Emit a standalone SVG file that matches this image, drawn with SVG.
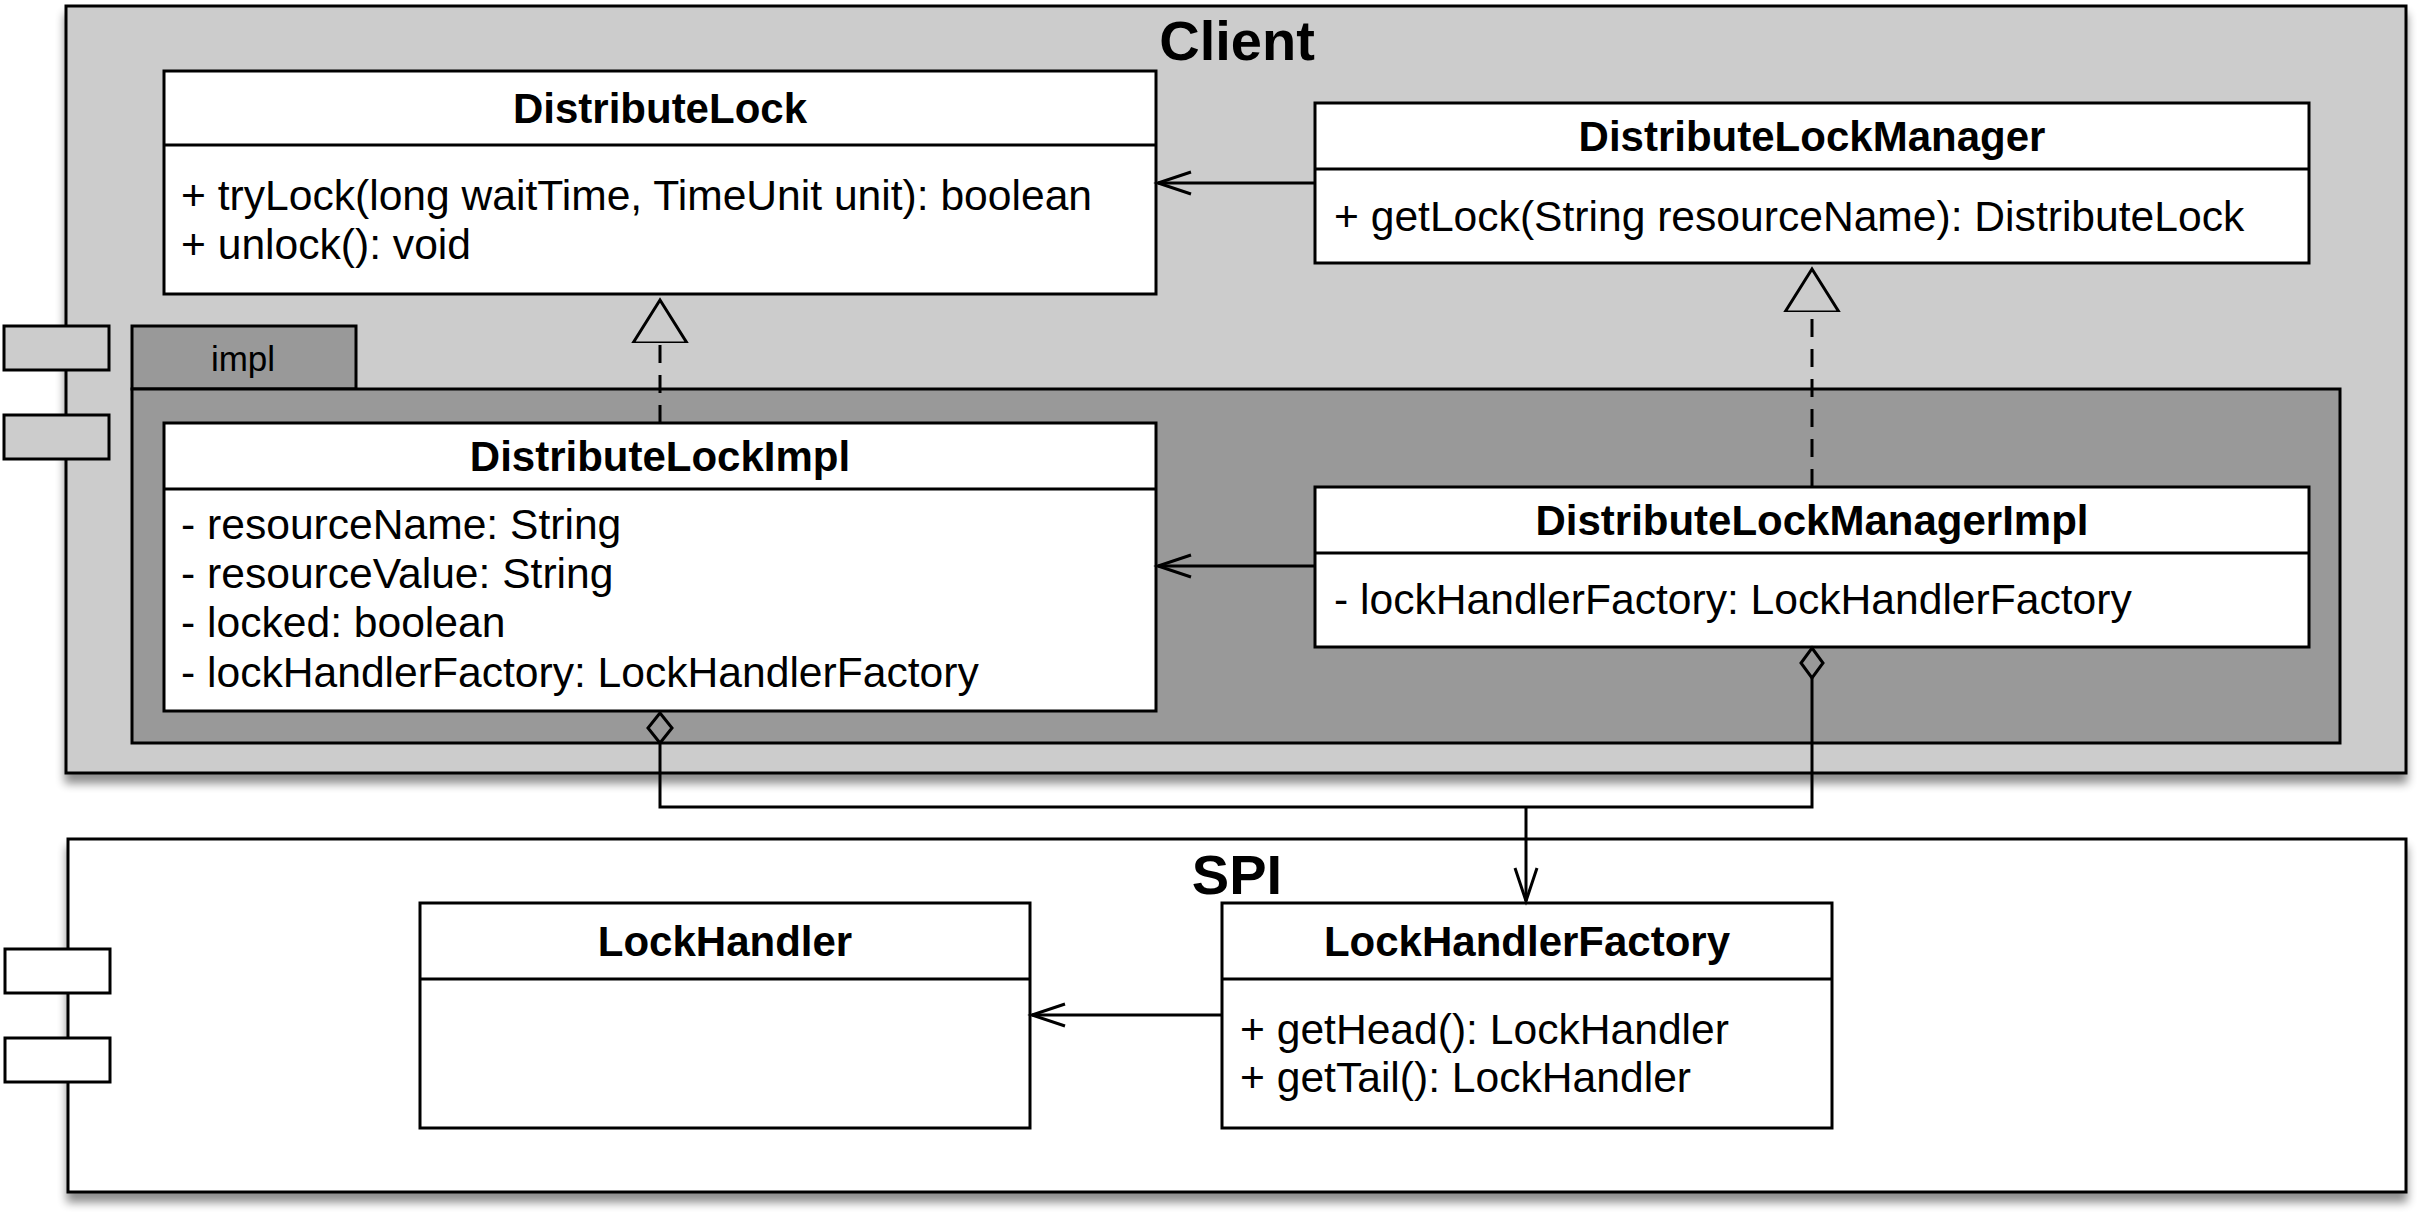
<svg xmlns="http://www.w3.org/2000/svg" width="2417" height="1212" viewBox="0 0 2417 1212">
<style>
  text { font-family: "Liberation Sans", Arial, sans-serif; fill: #000; }
  .title { font-size: 42px; font-weight: bold; text-anchor: middle; }
  .pkg { font-size: 56px; font-weight: bold; text-anchor: middle; }
  .member { font-size: 42.6px; }
  .tab { font-size: 35px; text-anchor: middle; }
  .box { fill: #fff; stroke: #000; stroke-width: 3; }
  .sep { stroke: #000; stroke-width: 3; }
  .conn { fill: none; stroke: #000; stroke-width: 3; }
  .dash { fill: none; stroke: #000; stroke-width: 3; stroke-dasharray: 18 12; }
  .diamond { fill: none; stroke: #000; stroke-width: 3; stroke-linejoin: miter; }
</style>
<defs>
  <filter id="shadow" x="-5%" y="-5%" width="110%" height="115%">
    <feGaussianBlur in="SourceAlpha" stdDeviation="5"/>
    <feOffset dx="0" dy="9" result="b"/>
    <feComponentTransfer><feFuncA type="linear" slope="0.45"/></feComponentTransfer>
    <feMerge><feMergeNode/><feMergeNode in="SourceGraphic"/></feMerge>
  </filter>
  <marker id="open" viewBox="0 0 40 28" refX="35" refY="14" markerWidth="40" markerHeight="28" orient="auto" markerUnits="userSpaceOnUse">
    <path d="M2,3 L35,14 L2,25" fill="none" stroke="#000" stroke-width="3"/>
  </marker>
  <marker id="tri" viewBox="0 -30 48 60" refX="0" refY="0" markerWidth="48" markerHeight="60" orient="auto" markerUnits="userSpaceOnUse">
    <path d="M0,-27 L43,0 L0,27 Z" fill="none" stroke="#000" stroke-width="3" stroke-linejoin="miter"/>
  </marker>
</defs>

<!-- Client package -->
<g id="client">
  <rect x="66" y="6" width="2340" height="767" fill="#cccccc" stroke="#000" stroke-width="3" filter="url(#shadow)"/>
  <text class="pkg" x="1237" y="60">Client</text>
</g>

<!-- impl package -->
<g id="impl">
  <rect x="132" y="326" width="224" height="63" fill="#999999" stroke="#000" stroke-width="3"/>
  <rect x="132" y="389" width="2208" height="354" fill="#999999" stroke="#000" stroke-width="3"/>
  <text class="tab" x="243" y="371">impl</text>
</g>

<!-- SPI package -->
<g id="spi">
  <rect x="68" y="839" width="2338" height="353" fill="#fff" stroke="#000" stroke-width="3" filter="url(#shadow)"/>
  <text class="pkg" x="1237" y="894">SPI</text>
</g>

<g id="DistributeLock">
  <rect class="box" x="164" y="71" width="992" height="223"/>
  <line class="sep" x1="164" y1="145" x2="1156" y2="145"/>
  <text class="title" x="660" y="123">DistributeLock</text>
  <text class="member" x="181" y="210">+ tryLock(long waitTime, TimeUnit unit): boolean</text>
  <text class="member" x="181" y="259">+ unlock(): void</text>
</g>

<g id="DistributeLockManager">
  <rect class="box" x="1315" y="103" width="994" height="160"/>
  <line class="sep" x1="1315" y1="169" x2="2309" y2="169"/>
  <text class="title" x="1812" y="151">DistributeLockManager</text>
  <text class="member" x="1334" y="231">+ getLock(String resourceName): DistributeLock</text>
</g>

<g id="DistributeLockImpl">
  <rect class="box" x="164" y="423" width="992" height="288"/>
  <line class="sep" x1="164" y1="489" x2="1156" y2="489"/>
  <text class="title" x="660" y="471">DistributeLockImpl</text>
  <text class="member" x="181" y="539">- resourceName: String</text>
  <text class="member" x="181" y="588">- resourceValue: String</text>
  <text class="member" x="181" y="637">- locked: boolean</text>
  <text class="member" x="181" y="687">- lockHandlerFactory: LockHandlerFactory</text>
</g>

<g id="DistributeLockManagerImpl">
  <rect class="box" x="1315" y="487" width="994" height="160"/>
  <line class="sep" x1="1315" y1="553" x2="2309" y2="553"/>
  <text class="title" x="1812" y="535">DistributeLockManagerImpl</text>
  <text class="member" x="1334" y="614">- lockHandlerFactory: LockHandlerFactory</text>
</g>

<g id="LockHandler">
  <rect class="box" x="420" y="903" width="610" height="225"/>
  <line class="sep" x1="420" y1="979" x2="1030" y2="979"/>
  <text class="title" x="725" y="956">LockHandler</text>
</g>

<g id="LockHandlerFactory">
  <rect class="box" x="1222" y="903" width="610" height="225"/>
  <line class="sep" x1="1222" y1="979" x2="1832" y2="979"/>
  <text class="title" x="1527" y="956">LockHandlerFactory</text>
  <text class="member" x="1240" y="1044">+ getHead(): LockHandler</text>
  <text class="member" x="1240" y="1092">+ getTail(): LockHandler</text>
</g>

<g id="connectors">
  <line class="conn" x1="1315" y1="183" x2="1158" y2="183" marker-end="url(#open)"/>
  <line class="conn" x1="1315" y1="566" x2="1158" y2="566" marker-end="url(#open)"/>
  <line class="conn" x1="1222" y1="1015" x2="1032" y2="1015" marker-end="url(#open)"/>
  <line class="dash" x1="660" y1="423" x2="660" y2="343" marker-end="url(#tri)"/>
  <line class="dash" x1="1812" y1="487" x2="1812" y2="312" marker-end="url(#tri)"/>
  <polygon class="diamond" points="660,713 672,728 660,743 648,728"/>
  <polygon class="diamond" points="1812,648 1823,663 1812,678 1801,663"/>
  <path class="conn" d="M660,743 V807 H1812 V678"/>
  <line class="conn" x1="1526" y1="807" x2="1526" y2="901" marker-end="url(#open)"/>
</g>

<g id="ports">
  <rect x="4" y="326" width="105" height="44" fill="#cccccc" stroke="#000" stroke-width="3"/>
  <rect x="4" y="415" width="105" height="44" fill="#cccccc" stroke="#000" stroke-width="3"/>
  <rect x="5" y="949" width="105" height="44" fill="#fff" stroke="#000" stroke-width="3"/>
  <rect x="5" y="1038" width="105" height="44" fill="#fff" stroke="#000" stroke-width="3"/>
</g>
</svg>
